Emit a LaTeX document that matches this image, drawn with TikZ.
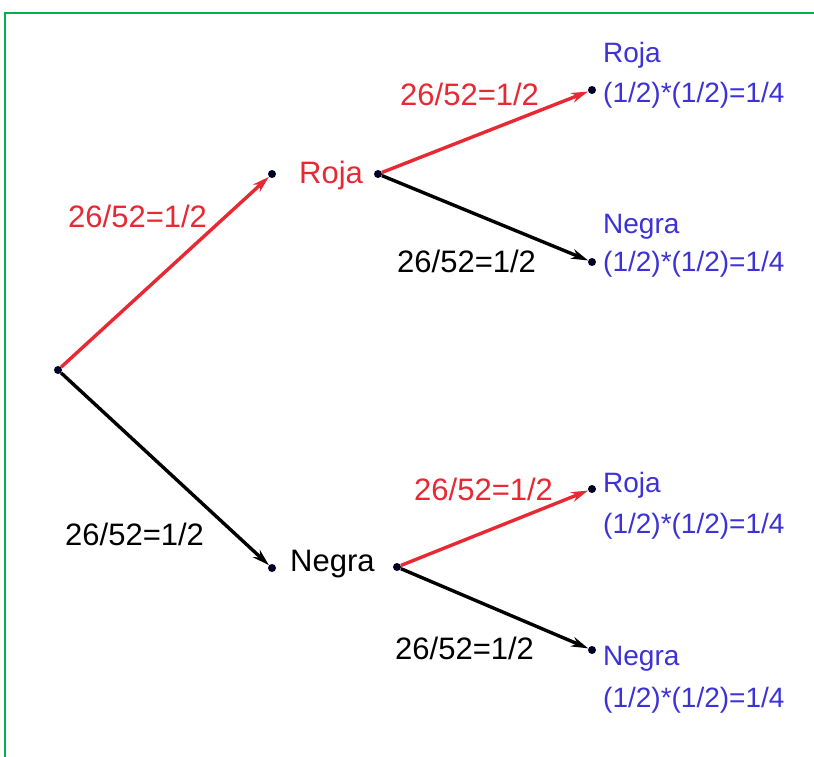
\documentclass[tikz,border=0pt]{standalone}
\usepackage{fontspec}
\setmainfont{Liberation Sans}
\usetikzlibrary{arrows.meta}
\definecolor{myred}{RGB}{232,40,50}
\definecolor{myblue}{RGB}{60,50,215}
\definecolor{mygreen}{RGB}{0,176,80}
\begin{document}
\begin{tikzpicture}[x=1pt,y=-1pt,
  branch/.style={line width=3.4pt, -{Stealth[length=17pt,width=10pt]}},
  redbranch/.style={branch, draw=myred},
  blackbranch/.style={branch, draw=black},
  dot/.style={circle, fill=black!85!blue, inner sep=0pt, minimum size=8pt},
  lab/.style={font=\fontsize{31}{31}\selectfont, anchor=base west, inner sep=0pt},
  res/.style={font=\fontsize{28}{28}\selectfont, text=myblue, anchor=base west, inner sep=0pt}]
\useasboundingbox (0,0) rectangle (814,756);
\fill[white] (0,0) rectangle (814,756);
\draw[mygreen, line width=2.2pt] (5,760) -- (5,13) -- (820,13);
% points
\node[dot] (r) at (58,370) {};
\node[dot] (a) at (272,174) {};
\node[dot] (a2) at (378,174) {};
\node[dot] (aa) at (592,90) {};
\node[dot] (ab) at (592,262) {};
\node[dot] (b) at (272,568) {};
\node[dot] (b2) at (397,567) {};
\node[dot] (ba) at (592,489) {};
\node[dot] (bb) at (592,650) {};
% branches
\draw[redbranch] (r) -- (a);
\draw[blackbranch] (r) -- (b);
\draw[redbranch] (a2) -- (aa);
\draw[blackbranch] (a2) -- (ab);
\draw[redbranch] (b2) -- (ba);
\draw[blackbranch] (b2) -- (bb);
% probability labels
\node[lab, text=myred] (l1) at (68,227) {26/52=1/2};
\node[lab] (l2) at (65,545) {26/52=1/2};
\node[lab, text=myred] (l3) at (400,105) {26/52=1/2};
\node[lab] (l4) at (397,272) {26/52=1/2};
\node[lab, text=myred] (l5) at (414,500) {26/52=1/2};
\node[lab] (l6) at (395,659) {26/52=1/2};
% middle labels
\node[lab, text=myred] (m1) at (299,183) {Roja};
\node[lab] (m2) at (290,571) {Negra};
% results
\node[res] (t1) at (603,62) {Roja};
\node[res] (p1) at (603,102) {(1/2)*(1/2)=1/4};
\node[res] (t2) at (603,233) {Negra};
\node[res] (p2) at (603,271) {(1/2)*(1/2)=1/4};
\node[res] (t3) at (603,492) {Roja};
\node[res] (p3) at (603,533) {(1/2)*(1/2)=1/4};
\node[res] (t4) at (603,665) {Negra};
\node[res] (p4) at (603,707) {(1/2)*(1/2)=1/4};
\end{tikzpicture}
\end{document}
